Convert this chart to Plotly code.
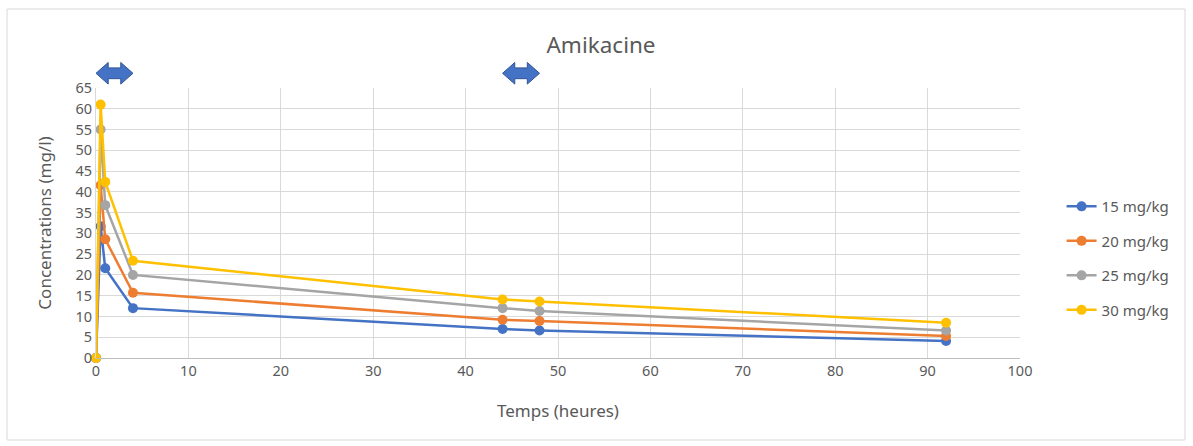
import plotly.graph_objects as go

times = [0, 0.5, 1, 4, 44, 48, 92]
series_names = ["15 mg/kg", "20 mg/kg", "25 mg/kg", "30 mg/kg"]
c15 = [0, 31.7, 21.6, 12.0, 7.0, 6.6, 4.1]
c20 = [0, 41.6, 28.6, 15.7, 9.2, 8.9, 5.3]
c25 = [0, 55.0, 36.8, 20.0, 12.0, 11.3, 6.6]
c30 = [0, 61.0, 42.4, 23.4, 14.1, 13.6, 8.5]
colors = ["#4472c4", "#ed7d31", "#a5a5a5", "#ffc000"]
arrow_intervals = [(0, 4), (44, 48)]
x_ticks = list(range(0, 101, 10))
y_ticks = list(range(0, 66, 5))

FONT = "Noto Sans"
TXT = "#595959"

fig = go.Figure()
for i, (name, vals) in enumerate(zip(series_names, [c15, c20, c25, c30])):
    fig.add_trace(go.Scatter(
        x=times, y=vals, name=name, mode="lines+markers",
        line=dict(color=colors[i], width=2.5),
        marker=dict(color=colors[i], size=10),
        cliponaxis=False, legendgroup=name,
    ))

XR = (0, 100)

def px(x):
    return (x - XR[0]) / (XR[1] - XR[0])

shapes = [dict(type="rect", xref="paper", yref="paper",
               x0=-0.0963, x1=1.1786, y0=-0.3037, y1=1.2926,
               line=dict(color="#d9d9d9", width=1), layer="below")]
yc, h, s = 1.0545, 0.040, 0.020
for a, b in arrow_intervals:
    hl = (b - a) * 0.33
    xa, xb = px(a), px(b)
    xh1, xh2 = px(a + hl), px(b - hl)
    path = (f"M {xa},{yc} L {xh1},{yc+h} L {xh1},{yc+s} L {xh2},{yc+s} "
            f"L {xh2},{yc+h} L {xb},{yc} L {xh2},{yc-h} L {xh2},{yc-s} "
            f"L {xh1},{yc-s} L {xh1},{yc-h} Z")
    shapes.append(dict(type="path", xref="paper", yref="paper", path=path,
                       fillcolor="#4472c4", line=dict(color="#2f5597", width=1)))

fig.update_layout(
    width=1193, height=446,
    margin=dict(l=96, r=173, t=88, b=88),
    paper_bgcolor="white", plot_bgcolor="white",
    font=dict(family=FONT, color=TXT, size=14.5),
    title=dict(text="Amikacine", x=601 / 1193, xanchor="center",
               y=1 - 45 / 446, yanchor="middle",
               font=dict(size=22.5, color=TXT, family=FONT)),
    xaxis=dict(range=list(XR), tickvals=x_ticks, showgrid=True, gridcolor="#d9d9d9",
               gridwidth=1, zeroline=False, showline=True, linecolor="#bfbfbf",
               ticks="", tickfont=dict(size=14.5, color=TXT),
               title=dict(text="Temps (heures)", font=dict(size=17, color=TXT), standoff=25)),
    yaxis=dict(range=[0, 65], tickvals=y_ticks, showgrid=True, gridcolor="#d9d9d9",
               gridwidth=1, zeroline=False, showline=True, linecolor="#d9d9d9",
               ticks="", tickfont=dict(size=14.5, color=TXT),
               title=dict(text="Concentrations (mg/l)", font=dict(size=17, color=TXT), standoff=19)),
    legend=dict(x=1.045, xanchor="left", y=0.37, yanchor="middle",
                font=dict(size=15, color=TXT), tracegroupgap=12,
                bgcolor="rgba(0,0,0,0)"),
    shapes=shapes,
)

fig.write_html("out.html", config={"displayModeBar": False},
               post_script="document.body.style.margin='0';")
